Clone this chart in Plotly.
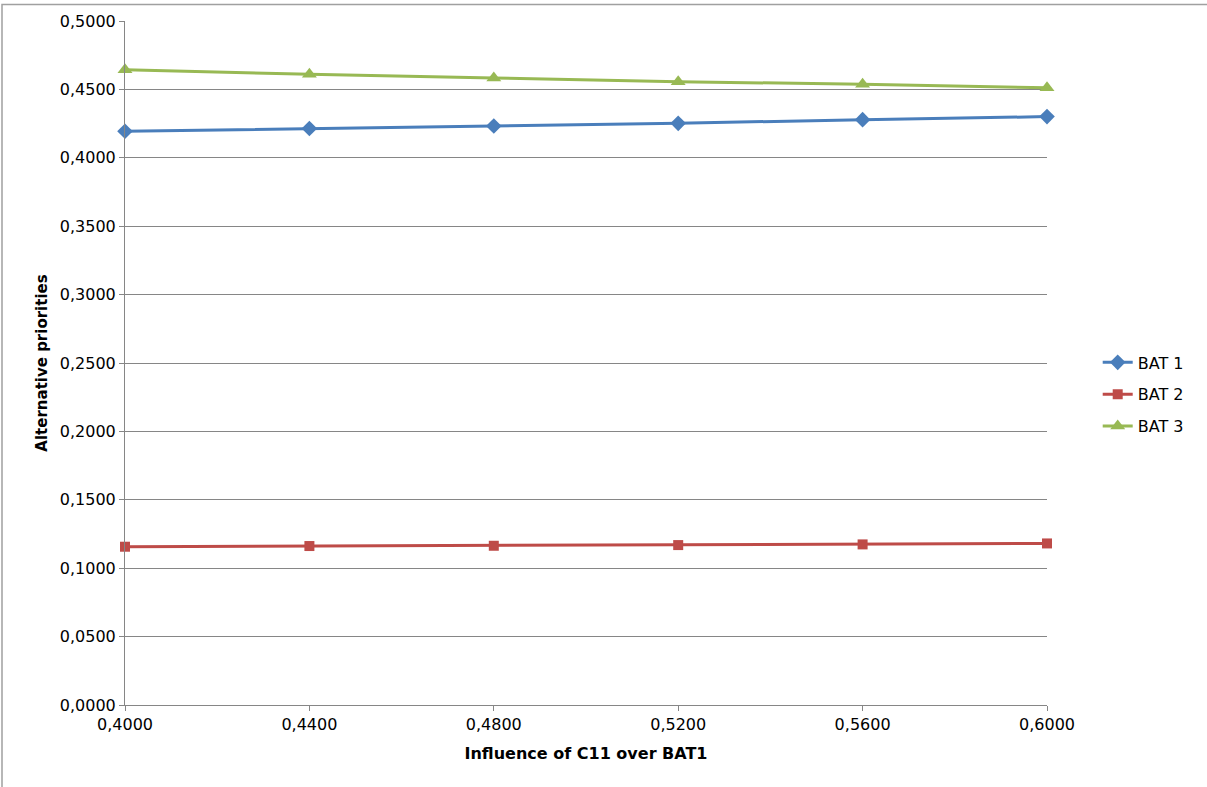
import plotly.graph_objects as go

x_vals = [0.40, 0.44, 0.48, 0.52, 0.56, 0.60]
bat1 = [0.4194, 0.4214, 0.4233, 0.4252, 0.4279, 0.4301]
bat2 = [0.1157, 0.1162, 0.1164, 0.1169, 0.1174, 0.1181]
bat3 = [0.4643, 0.4610, 0.4583, 0.4556, 0.4538, 0.4512]
series_names = ["BAT 1", "BAT 2", "BAT 3"]
colors = ["#4A7EBB", "#BE4B48", "#98B954"]
symbols = ["diamond", "square", "triangle-up"]
sizes = [12, 10, 13]

FONT = "DejaVu Sans, Arial"

fig = go.Figure()
for name, ys, c, s, sz in zip(series_names, [bat1, bat2, bat3], colors, symbols, sizes):
    fig.add_trace(go.Scatter(
        x=x_vals, y=ys, name=name, mode="lines+markers",
        legendgroup=name,
        line=dict(color=c, width=3),
        marker=dict(symbol=s, size=sz, color=c),
        cliponaxis=False,
    ))

axis_common = dict(
    showline=True, linecolor="#868686", linewidth=1,
    ticks="outside", tickcolor="#868686", ticklen=5,
    tickfont=dict(family=FONT, size=16, color="#000000"),
    zeroline=False,
)

fig.update_layout(
    width=1207, height=787,
    paper_bgcolor="white", plot_bgcolor="white",
    separators=",.",
    margin=dict(l=125, r=160, t=18, b=82),
    font=dict(family=FONT, color="#000000"),
    xaxis=dict(
        range=[0.4, 0.6], tickvals=x_vals, tickformat=".4f",
        showgrid=False,
        title=dict(text="<b>Influence of C11 over BAT1</b>",
                   font=dict(family=FONT, size=16), standoff=14),
        **axis_common,
    ),
    yaxis=dict(
        range=[0, 0.5], dtick=0.05, tickformat=".4f",
        showgrid=True, gridcolor="#868686", gridwidth=1,
        title=dict(text="<b>Alternative priorities</b>",
                   font=dict(family=FONT, size=15), standoff=8),
        **axis_common,
    ),
    legend=dict(
        x=1.055, y=0.454, xanchor="left", yanchor="middle",
        font=dict(family=FONT, size=16),
        bgcolor="rgba(0,0,0,0)", itemwidth=30, tracegroupgap=8,
    ),
    shapes=[dict(
        type="rect", xref="paper", yref="paper",
        x0=(2 - 125) / 922, x1=(1215 - 125) / 922,
        y0=-(800 - 705) / 687, y1=1 + (18 - 1.5) / 687,
        line=dict(color="#A0A0A0", width=1.5), fillcolor="rgba(0,0,0,0)",
        layer="below",
    )],
)

fig.write_html("out.html", config={"displayModeBar": False},
               post_script="document.body.style.margin='0';")
